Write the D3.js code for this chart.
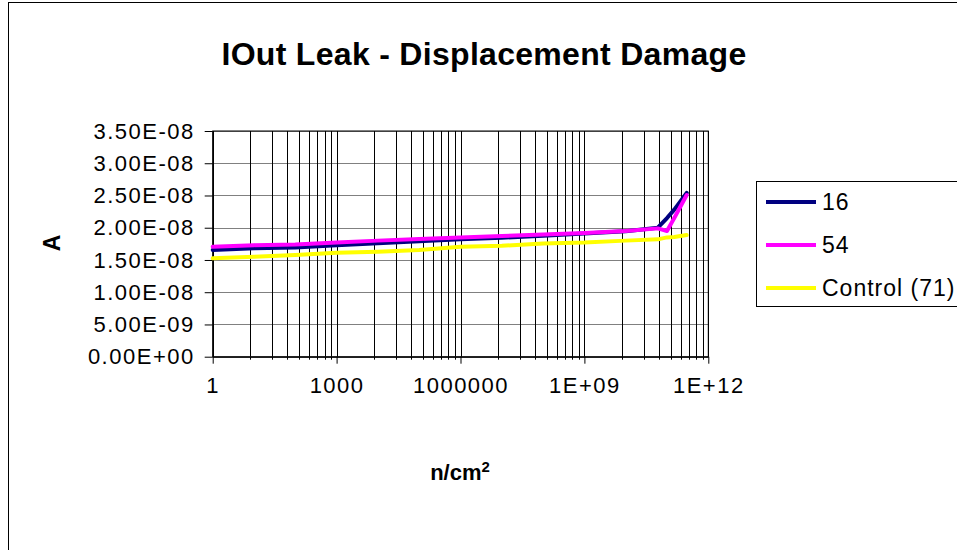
<!DOCTYPE html>
<html>
<head>
<meta charset="utf-8">
<script src="https://cdn.jsdelivr.net/npm/d3@7"></script>
<style>
  body { margin: 0; background: #fff; }
  svg { display: block; font-family: "Liberation Sans", Arial, sans-serif; }
</style>
</head>
<body>
<div id="chart"></div>
<script>
// data
var fluence = [1, 10, 100, 1e3, 1e4, 1e5, 1e6, 1e7, 1e8, 1e9, 1e10, 6e10, 1e11, 1.5e11, 3e11];
var s16 = [1.655e-8, 1.68e-8, 1.695e-8, 1.73e-8, 1.76e-8, 1.79e-8, 1.82e-8, 1.845e-8, 1.875e-8, 1.91e-8, 1.945e-8, 2.0e-8, 2.15e-8, 2.28e-8, 2.54e-8];
var s54 = [1.705e-8, 1.73e-8, 1.74e-8, 1.77e-8, 1.80e-8, 1.825e-8, 1.85e-8, 1.87e-8, 1.895e-8, 1.92e-8, 1.95e-8, 1.99e-8, 1.95e-8, 2.15e-8, 2.507e-8];
var control = [1.525e-8, 1.55e-8, 1.577e-8, 1.613e-8, 1.628e-8, 1.654e-8, 1.705e-8, 1.72e-8, 1.757e-8, 1.77e-8, 1.80e-8, 1.82e-8, 1.85e-8, 1.855e-8, 1.887e-8];

var seriesNames = ["16", "54", "Control (71)"];
var seriesColors = ["#000080", "#ff00ff", "#ffff00"];

var xMajor = [1, 1e3, 1e6, 1e9, 1e12];
var xTickLabels = ["1", "1000", "1000000", "1E+09", "1E+12"];
var yTicks = [0, 5e-9, 1e-8, 1.5e-8, 2e-8, 2.5e-8, 3e-8, 3.5e-8];
var yTickLabels = ["0.00E+00", "5.00E-09", "1.00E-08", "1.50E-08", "2.00E-08", "2.50E-08", "3.00E-08", "3.50E-08"];

var W = 957, H = 550;
var plot = {left: 212.7, right: 708.3, top: 131, bottom: 356.7};

var svg = d3.select("#chart")
  .append("svg")
    .attr("width", W)
    .attr("height", H);

// chart frame
svg.append("rect")
  .attr("x", 8.5).attr("y", 2.5)
  .attr("width", 1000).attr("height", 600)
  .attr("fill", "#fff")
  .attr("stroke", "#000");

var x = d3.scaleLog()
  .domain([1, 1e12])
  .range([plot.left, plot.right]);

var y = d3.scaleLinear()
  .domain([0, 3.5e-8])
  .range([plot.bottom, plot.top]);

// minor grid positions, excel style: k^3 inside each 1000 step
var xMinor = [];
xMajor.slice(0, -1).forEach(function (m) {
  for (var k = 2; k <= 9; k++) xMinor.push(m * k * k * k);
});

// horizontal grid
svg.append("g")
  .selectAll("line")
  .data(yTicks)
  .enter()
  .append("line")
    .attr("x1", plot.left).attr("x2", plot.right)
    .attr("y1", function (d) { return Math.round(y(d)) + 0.5; })
    .attr("y2", function (d) { return Math.round(y(d)) + 0.5; })
    .attr("stroke", "#808080")
    .attr("stroke-width", 1);

// vertical grid
svg.append("g")
  .selectAll("line")
  .data(xMajor.concat(xMinor))
  .enter()
  .append("line")
    .attr("x1", function (d) { return Math.round(x(d)) + 0.5; })
    .attr("x2", function (d) { return Math.round(x(d)) + 0.5; })
    .attr("y1", plot.top).attr("y2", plot.bottom)
    .attr("stroke", "#000")
    .attr("stroke-width", 1);

// plot border
svg.append("rect")
  .attr("x", plot.left).attr("y", plot.top)
  .attr("width", plot.right - plot.left)
  .attr("height", plot.bottom - plot.top)
  .attr("fill", "none")
  .attr("stroke", "#000");

// x axis
var xAxis = svg.append("g")
  .attr("transform", "translate(0," + plot.bottom + ")")
  .call(d3.axisBottom(x)
    .tickValues(xMajor)
    .tickFormat(function (d, i) { return xTickLabels[i]; })
    .tickSize(7)
    .tickSizeOuter(0)
    .tickPadding(14));
xAxis.selectAll("text")
  .attr("font-size", "22px")
  .attr("letter-spacing", "1.5px")
  .attr("fill", "#000")
  .attr("font-family", "Liberation Sans, Arial, sans-serif");
xAxis.select(".domain").attr("stroke", "#000");

// x minor ticks
svg.append("g")
  .selectAll("line")
  .data(xMinor)
  .enter()
  .append("line")
    .attr("x1", function (d) { return Math.round(x(d)) + 0.5; })
    .attr("x2", function (d) { return Math.round(x(d)) + 0.5; })
    .attr("y1", plot.bottom).attr("y2", plot.bottom + 3)
    .attr("stroke", "#000");

// y axis
var yAxis = svg.append("g")
  .attr("transform", "translate(" + plot.left + ",0)")
  .call(d3.axisLeft(y)
    .tickValues(yTicks)
    .tickFormat(function (d, i) { return yTickLabels[i]; })
    .tickSize(8)
    .tickSizeOuter(0)
    .tickPadding(10));
yAxis.selectAll("text")
  .attr("font-size", "22px")
  .attr("letter-spacing", "1.5px")
  .attr("fill", "#000")
  .attr("font-family", "Liberation Sans, Arial, sans-serif");
yAxis.select(".domain").attr("stroke", "#000");

// series
var allSeries = [s16, s54, control];
var line = d3.line()
  .x(function (d, i) { return x(fluence[i]); })
  .y(function (d) { return y(d); });

allSeries.forEach(function (s, i) {
  svg.append("path")
    .datum(s)
    .attr("d", line)
    .attr("fill", "none")
    .attr("stroke", seriesColors[i])
    .attr("stroke-width", 4)
    .attr("stroke-linejoin", "round")
    .attr("stroke-linecap", "round");
});

// title
svg.append("text")
  .attr("x", 484).attr("y", 65)
  .attr("text-anchor", "middle")
  .attr("font-size", "32px")
  .attr("font-weight", "bold")
  .attr("letter-spacing", "0.3px")
  .text("IOut Leak - Displacement Damage");

// axis titles
svg.append("text")
  .attr("transform", "translate(60,243) rotate(-90)")
  .attr("text-anchor", "middle")
  .attr("font-size", "23px")
  .attr("font-weight", "bold")
  .text("A");

var xt = svg.append("text")
  .attr("x", 460).attr("y", 480)
  .attr("text-anchor", "middle")
  .attr("font-size", "22px")
  .attr("font-weight", "bold");
xt.append("tspan").text("n/cm");
xt.append("tspan")
  .attr("baseline-shift", "super")
  .attr("font-size", "15px")
  .text("2");

// legend
var legend = svg.append("g");
legend.append("rect")
  .attr("x", 756.5).attr("y", 181.5)
  .attr("width", 260).attr("height", 125)
  .attr("fill", "#fff")
  .attr("stroke", "#000");

var legendY = [202, 245, 288];
seriesNames.forEach(function (name, i) {
  legend.append("line")
    .attr("x1", 766).attr("x2", 816)
    .attr("y1", legendY[i]).attr("y2", legendY[i])
    .attr("stroke", seriesColors[i])
    .attr("stroke-width", 4);
  legend.append("text")
    .attr("x", 822).attr("y", legendY[i] + 8)
    .attr("font-size", "23px")
    .attr("letter-spacing", "1px")
    .text(name);
});
</script>
</body>
</html>
